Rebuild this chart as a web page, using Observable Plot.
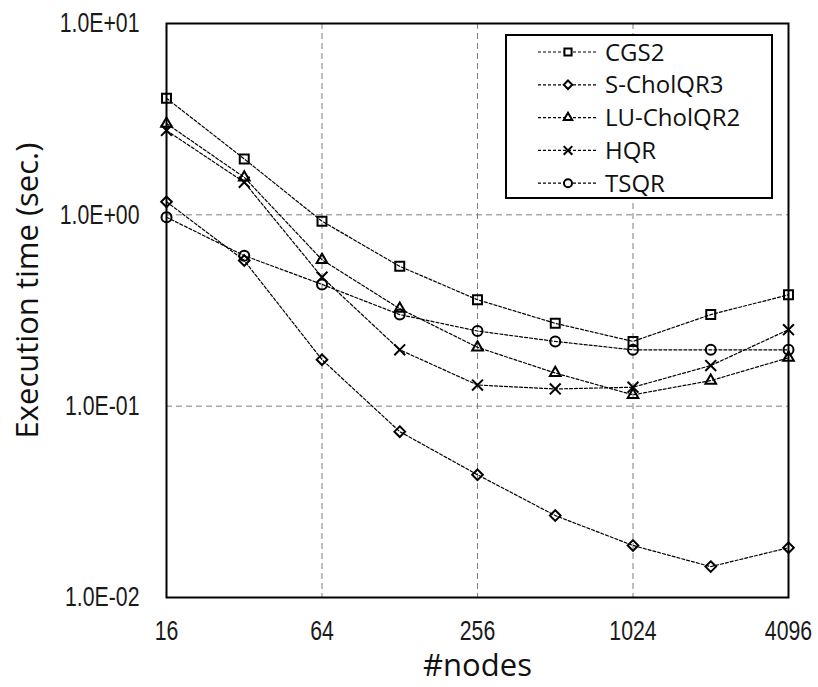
<!DOCTYPE html>
<html><head><meta charset="utf-8">
<script src="https://cdn.jsdelivr.net/npm/d3@7"></script>
<script src="https://cdn.jsdelivr.net/npm/@observablehq/plot@0.6"></script>
<style>
body{margin:0;background:#fff;}
#wrap{position:relative;width:818px;height:687px;background:#fff;}
</style></head><body><div id="wrap"></div>
<script>
// ---- data ----
const nodes = [16, 32, 64, 128, 256, 512, 1024, 2048, 4096];
const seriesNames = ["CGS2", "S-CholQR3", "LU-CholQR2", "HQR", "TSQR"];
const cgs2      = [4.07, 1.96, 0.926, 0.538, 0.360, 0.271, 0.218, 0.301, 0.382];
const scholqr3  = [1.17, 0.577, 0.175, 0.0736, 0.0438, 0.0268, 0.0187, 0.0145, 0.0182];
const lucholqr2 = [3.00, 1.57, 0.582, 0.323, 0.203, 0.149, 0.1146, 0.136, 0.179];
const hqr       = [2.76, 1.48, 0.472, 0.197, 0.129, 0.123, 0.1256, 0.163, 0.251];
const tsqr      = [0.972, 0.612, 0.433, 0.301, 0.247, 0.218, 0.197, 0.197, 0.197];
const xTicks = [16, 64, 256, 1024, 4096];
const yTicks = [10, 1, 0.1, 0.01];
const xGrid = [64, 256, 1024];
const yGrid = [1, 0.1];

const values = [cgs2, scholqr3, lucholqr2, hqr, tsqr];
const rows = seriesNames.flatMap((s, i) => nodes.map((n, j) => ({series: s, nodes: n, time: values[i][j]})));

// ---- styles ----
const symbolOf = {"CGS2": "square2", "S-CholQR3": "diamond2", "LU-CholQR2": "triangle2", "HQR": "times", "TSQR": "circle"};
const d3Sym = {square2: d3.symbolSquare2, diamond2: d3.symbolDiamond2, triangle2: d3.symbolTriangle2, times: d3.symbolTimes, circle: d3.symbolCircle};
const rOf = {"CGS2": 5.7, "S-CholQR3": 4.8, "LU-CholQR2": 5.1, "HQR": 5, "TSQR": 5};

const sci = d => {
  const e = Math.round(Math.log10(d));
  return "1.0E" + (e < 0 ? "-" : "+") + String(Math.abs(e)).padStart(2, "0");
};
const tickFont = "Liberation Sans, Arial, sans-serif";
const titleFont = "Open Sans, Noto Sans, sans-serif";
const gridStyle = {stroke: "#7f7f7f", strokeOpacity: 1, strokeWidth: 1, strokeDasharray: "6,4"};

const chart = Plot.plot({
  width: 818,
  height: 687,
  marginLeft: 166,
  marginRight: 30,
  marginTop: 23,
  marginBottom: 90,
  x: {type: "log", base: 2, domain: [16, 4096]},
  y: {type: "log", domain: [0.01, 10]},
  marks: [
    Plot.gridX(xGrid, gridStyle),
    Plot.gridY(yGrid, gridStyle),
    Plot.frame({stroke: "#000", strokeWidth: 2}),
    Plot.axisX(xTicks, {tickSize: 0, tickPadding: 23, fontSize: 28, fontFamily: tickFont, fill: "#1a1a1a", tickFormat: d => String(d), label: null}),
    Plot.axisY(yTicks, {tickSize: 0, tickPadding: 27, fontSize: 28, fontFamily: tickFont, fill: "#1a1a1a", tickFormat: sci, label: null}),
    Plot.text(["Execution time (sec.)"], {frameAnchor: "left", textAnchor: "middle", lineAnchor: "middle", rotate: -90, dx: -138, dy: -20, fontSize: 31, fontFamily: titleFont, fill: "#111"}),
    Plot.text(["#nodes"], {frameAnchor: "bottom", textAnchor: "middle", lineAnchor: "middle", dy: 69, fontSize: 31, fontFamily: titleFont, fill: "#111"}),
    Plot.line(rows, {x: "nodes", y: "time", z: "series", stroke: "#000", strokeWidth: 1.2, strokeDasharray: "3,2"}),
    ...seriesNames.map(s => Plot.dot(rows.filter(r => r.series === s), {
      x: "nodes", y: "time", symbol: symbolOf[s], r: rOf[s], stroke: "#000", strokeWidth: 2, fill: "none"
    }))
  ]
});

// condense tick labels horizontally (reference uses a narrow face)
d3.select(chart).selectAll('g[aria-label="x-axis tick label"] text, g[aria-label="y-axis tick label"] text').each(function() {
  const t = d3.select(this);
  const tr = t.attr("transform");
  if (tr) t.attr("transform", tr + " scale(0.76,1)");
  else {
    const x = +t.attr("x") || 0, y = +t.attr("y") || 0;
    t.attr("x", null).attr("y", null).attr("transform", `translate(${x},${y}) scale(0.76,1)`);
  }
});

const wrap = document.getElementById("wrap");
wrap.appendChild(chart);

// ---- legend (overlay inside plot area) ----
const lg = d3.select(wrap).append("svg")
  .attr("width", 268).attr("height", 165)
  .style("position", "absolute").style("left", "505px").style("top", "34px");
lg.append("rect").attr("x", 1).attr("y", 1).attr("width", 266).attr("height", 163)
  .attr("fill", "#fff").attr("stroke", "#000").attr("stroke-width", 2);
seriesNames.forEach((s, i) => {
  const y = 18 + i * 32.8;
  lg.append("line").attr("x1", 33).attr("x2", 92).attr("y1", y).attr("y2", y)
    .attr("stroke", "#000").attr("stroke-width", 1.2).attr("stroke-dasharray", "3,2");
  const rr = rOf[s] * 0.8;
  lg.append("path").attr("d", d3.symbol(d3Sym[symbolOf[s]], Math.PI * rr * rr)())
    .attr("transform", `translate(63,${y})`)
    .attr("fill", "#fff").attr("stroke", "#000").attr("stroke-width", 2);
  lg.append("text").attr("x", 100).attr("y", y).attr("dy", "0.36em")
    .attr("font-family", titleFont).attr("font-size", 24).attr("fill", "#111").text(s);
});
</script></body></html>
